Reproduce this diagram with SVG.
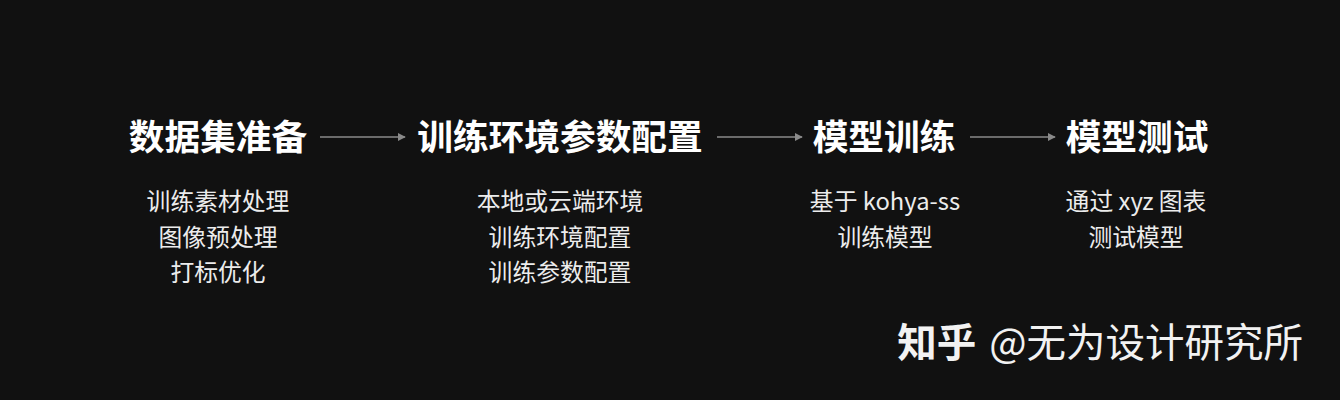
<svg xmlns="http://www.w3.org/2000/svg" width="1340" height="400" viewBox="0 0 1340 400">
<style>
.t{font-family:"Noto Sans CJK SC","Noto Sans",sans-serif;font-size:35.7px;font-weight:700;fill:#ffffff;text-anchor:middle}
.s{font-family:"Noto Sans CJK SC","Noto Sans",sans-serif;font-size:23.8px;font-weight:400;fill:#ececec;text-anchor:middle}
.c{stroke:#8a8a8a;stroke-width:1.5;fill:none}
.w{font-family:"Noto Sans CJK SC","Noto Sans",sans-serif;font-size:39.5px;fill:#f2f2f2}
</style>
<defs>
<marker id="ah" viewBox="0 0 10 10" refX="9" refY="5" markerWidth="8" markerHeight="8" markerUnits="userSpaceOnUse" orient="auto">
<path d="M0,0 L10,5 L0,10 z" fill="#8a8a8a"/>
</marker>
</defs>
<rect width="1340" height="400" fill="#111111"/>
<g id="connectors">
<line class="c" x1="320" y1="137" x2="405" y2="137" marker-end="url(#ah)"/>
<line class="c" x1="717" y1="137" x2="802" y2="137" marker-end="url(#ah)"/>
<line class="c" x1="970" y1="137" x2="1055" y2="137" marker-end="url(#ah)"/>
</g>
<g id="node1">
<text class="t" x="218" y="150">数据集准备</text>
<text class="s" x="218" y="210">训练素材处理</text>
<text class="s" x="218" y="246">图像预处理</text>
<text class="s" x="218" y="281">打标优化</text>
</g>
<g id="node2">
<text class="t" x="560" y="150">训练环境参数配置</text>
<text class="s" x="560" y="210">本地或云端环境</text>
<text class="s" x="560" y="246">训练环境配置</text>
<text class="s" x="560" y="281">训练参数配置</text>
</g>
<g id="node3">
<text class="t" x="884" y="150">模型训练</text>
<text class="s" x="885" y="210">基于 kohya-ss</text>
<text class="s" x="885" y="246">训练模型</text>
</g>
<g id="node4">
<text class="t" x="1137" y="150">模型测试</text>
<text class="s" x="1136" y="210">通过 xyz 图表</text>
<text class="s" x="1136" y="246">测试模型</text>
</g>
<g id="watermark">
<text class="w" x="1303" y="357" text-anchor="end"><tspan font-weight="700">知乎</tspan><tspan dx="4"> @无为设计研究所</tspan></text>
</g>
</svg>
